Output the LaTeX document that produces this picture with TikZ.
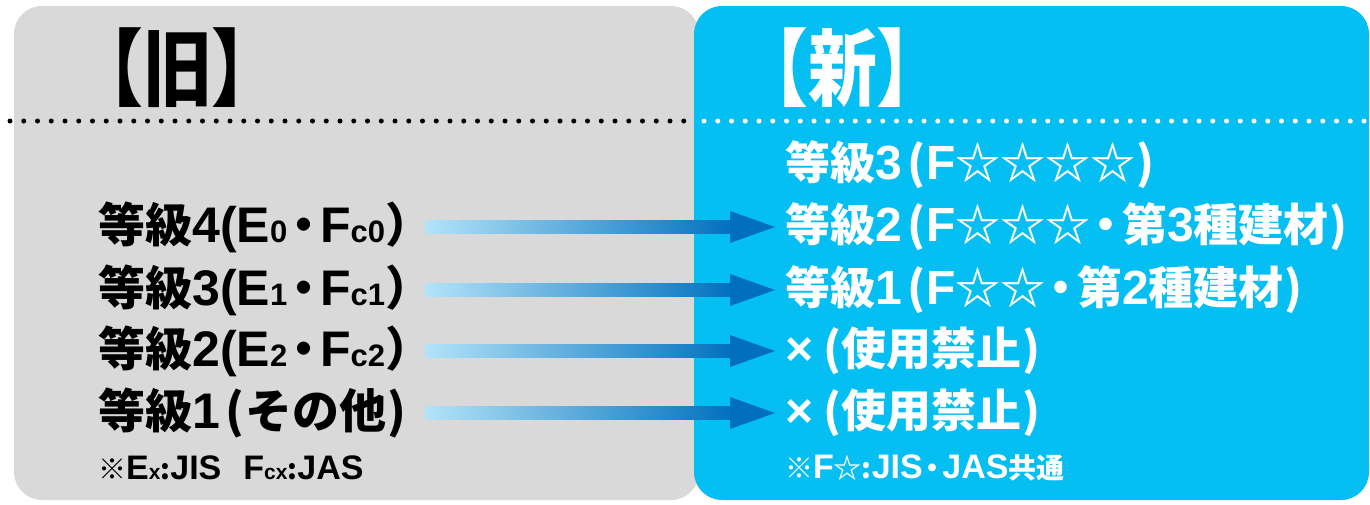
\documentclass[tikz,border=0pt]{standalone}
\usepackage{fontspec}
\setmainfont{Noto Sans CJK JP}
\newfontfamily\latn{Liberation Sans}
% left-hand (larger) pieces
\newcommand{\ltnL}[1]{{\latn\bfseries\fontsize{50}{50}\selectfont #1}}
\newcommand{\subL}[1]{{\fontsize{31}{31}\selectfont #1}}
% right-hand pieces
\newcommand{\ltnR}[1]{{\latn\bfseries\fontsize{48}{48}\selectfont #1}}
% notes
\newcommand{\ltnN}[1]{{\latn\bfseries\fontsize{34}{34}\selectfont #1}}
\newcommand{\subN}[1]{{\fontsize{21}{21}\selectfont #1}}
\newcommand{\dotsep}{\makebox[0.7em]{・}}
\newcommand{\opar}{\hspace{0.12em}(\hspace{0.02em}}
\newcommand{\cpar}{\hspace{0.02em})}
\definecolor{panelgray}{HTML}{D9D9D9}
\definecolor{panelblue}{HTML}{05BEF2}
\definecolor{arrlight}{HTML}{B3E3F8}
\definecolor{arrdark}{HTML}{0070BE}
\tikzset{
  titletext/.style={font=\fontsize{84}{84}\selectfont\bfseries, inner sep=0pt, anchor=west},
  lefttext/.style={font=\fontsize{47}{49}\selectfont\bfseries, inner sep=0pt, anchor=west},
  righttext/.style={font=\fontsize{45}{47}\selectfont\bfseries, inner sep=0pt, anchor=west, text=white},
  notetext/.style={font=\fontsize{28}{30}\selectfont\bfseries, inner sep=0pt, anchor=west},
  dotrow/.style={line width=5pt, line cap=round, dash pattern=on 0pt off 13.75pt},
}
\begin{document}
\begin{tikzpicture}[x=1pt,y=-1pt]
\useasboundingbox (0,0) rectangle (1370,504);
\fill[white] (0,0) rectangle (1370,504);
% panels
\fill[panelgray, rounded corners=28pt] (14,6) rectangle (699,500);
\fill[panelblue, rounded corners=28pt] (694,6) rectangle (1369,500);
% dotted separators
\draw[dotrow, black] (10,121) -- (690,121);
\draw[dotrow, white] (704,121) -- (1366,121);
% titles
\node[titletext, text=black] (old) at (74,68) {\scalebox{0.82}[1]{【旧】}};
\node[titletext, text=white] (new) at (739,68) {\scalebox{0.82}[1]{【新】}};
% left rows
\node[lefttext] (l4) at (98,227) {等級\ltnL{4(E\subL{0}}\dotsep\ltnL{F\subL{c0}}）};
\node[lefttext] (l3) at (98,290) {等級\ltnL{3(E\subL{1}}\dotsep\ltnL{F\subL{c1}}）};
\node[lefttext] (l2) at (98,351) {等級\ltnL{2(E\subL{2}}\dotsep\ltnL{F\subL{c2}}）};
\node[lefttext] (l1) at (98,413) {等級\ltnL{1}\opar その他\cpar};
\node[notetext] (lnote) at (98,468) {※\ltnN{E\subN{x}}:\ltnN{JIS\hspace{22pt}F\subN{cx}}:\ltnN{JAS}};
% right rows
\node[righttext] (r3) at (785,165) {等級\ltnR{3}\opar\ltnR{F}☆☆☆☆\cpar};
\node[righttext] (r2) at (785,227) {等級\ltnR{2}\opar\ltnR{F}☆☆☆\dotsep 第\ltnR{3}種建材\cpar};
\node[righttext] (r1) at (785,290) {等級\ltnR{1}\opar\ltnR{F}☆☆\dotsep 第\ltnR{2}種建材\cpar};
\node[righttext] (rx1) at (785,351) {\ltnR{×}\hspace{0.1em}\opar 使用禁止\cpar};
\node[righttext] (rx2) at (785,413) {\ltnR{×}\hspace{0.1em}\opar 使用禁止\cpar};
\node[notetext, text=white] (rnote) at (785,468) {※\ltnN{F}☆:\ltnN{JIS}\dotsep\ltnN{JAS}共通};
% arrows
\foreach \n/\yy in {4/227,3/290,2/351,1/413}{
  \coordinate (s\n) at (425,\yy);
  \coordinate (e\n) at (775,\yy);
  \shade[left color=arrlight, right color=arrdark] ([yshift=6.5pt]s\n) rectangle ([xshift=-42pt,yshift=-6.5pt]e\n);
  \fill[arrdark] ([xshift=-45pt,yshift=16pt]e\n) -- (e\n) -- ([xshift=-45pt,yshift=-16pt]e\n) -- cycle;
}
\end{tikzpicture}
\end{document}
